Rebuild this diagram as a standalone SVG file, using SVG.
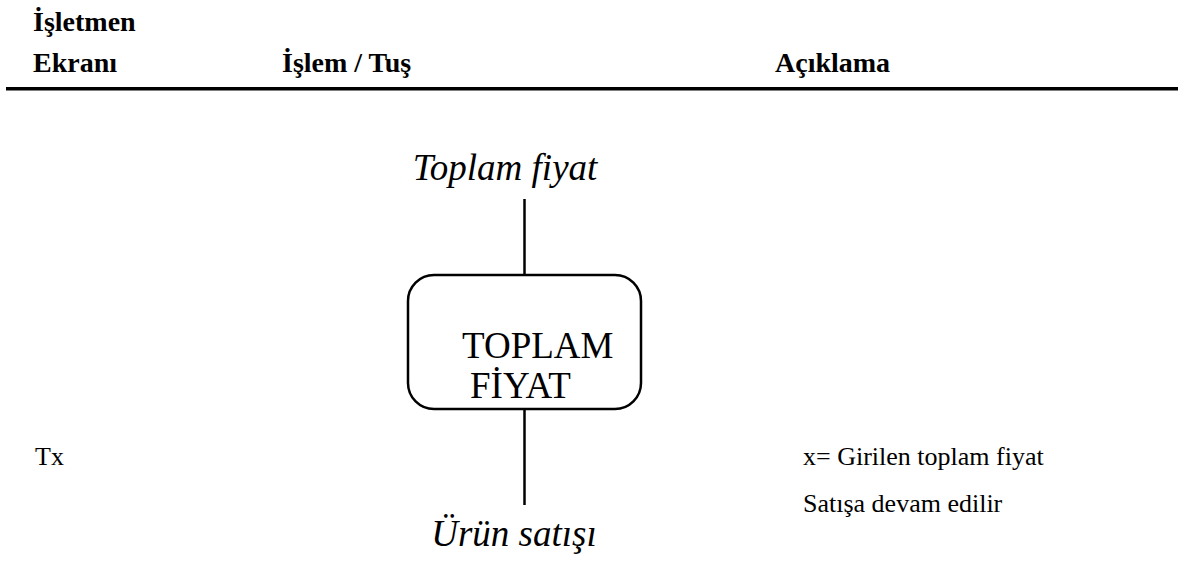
<svg xmlns="http://www.w3.org/2000/svg" width="1178" height="573" viewBox="0 0 1178 573">
<style>
.hdr{font-family:"Liberation Serif","Times New Roman",serif;font-weight:bold;font-size:28px;fill:#000}
.big{font-family:"Liberation Serif","Times New Roman",serif;font-size:37px;fill:#000}
.it{font-style:italic}
.body{font-family:"Liberation Serif","Times New Roman",serif;font-size:26px;fill:#000}
.ln{stroke:#000;stroke-width:2.5;fill:none}
</style>
<rect width="1178" height="573" fill="#fff"/>
<g id="header">
<text class="hdr" x="33" y="31">İşletmen</text>
<text class="hdr" x="33" y="72">Ekranı</text>
<text class="hdr" x="282" y="72">İşlem / Tuş</text>
<text class="hdr" x="775" y="72">Açıklama</text>
<rect x="6" y="87" width="1172" height="3.5" fill="#000"/>
</g>
<g id="connectors">
<line class="ln" x1="524.5" y1="199" x2="524.5" y2="275"/>
<line class="ln" x1="524.5" y1="409" x2="524.5" y2="505"/>
</g>
<g id="start">
<text class="big it" x="505" y="180" text-anchor="middle">Toplam fiyat</text>
</g>
<g id="box">
<rect class="ln" x="408" y="275" width="233" height="134" rx="26" ry="26"/>
<text class="big" x="462" y="358">TOPLAM</text>
<text class="big" x="470" y="398">FİYAT</text>
</g>
<g id="end">
<text class="big it" x="514" y="546" text-anchor="middle">Ürün satışı</text>
</g>
<g id="notes">
<text class="body" x="35" y="465">Tx</text>
<text class="body" x="803" y="465">x= Girilen toplam fiyat</text>
<text class="body" x="803" y="512">Satışa devam edilir</text>
</g>
</svg>
